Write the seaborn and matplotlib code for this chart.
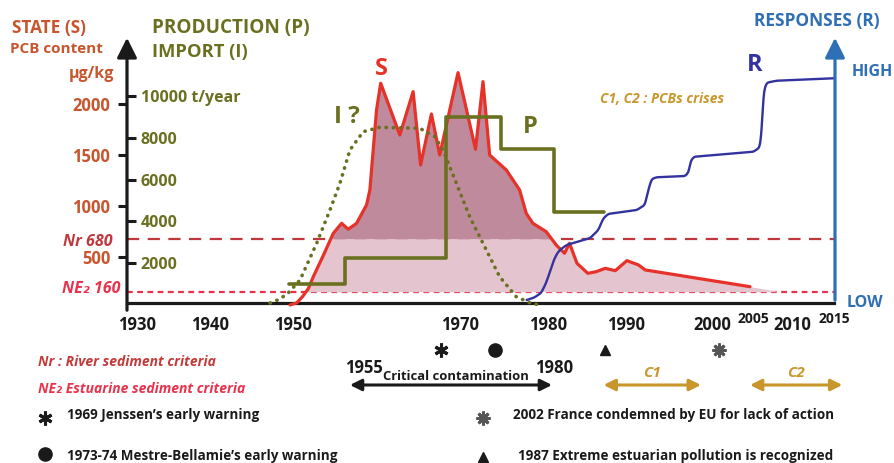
import numpy as np
import matplotlib
matplotlib.use("Agg")
import matplotlib.pyplot as plt
import seaborn as sns
from matplotlib.transforms import blended_transform_factory

sns.set_theme(style="white")
plt.rcParams["font.family"] = ["Open Sans", "DejaVu Sans"]

# State (S): PCB content, µg/kg
s_year = [1949.6, 1950.4, 1951.1, 1951.8, 1952.4, 1953.6, 1954.8, 1955.8, 1956.6,
          1957.6, 1958.8, 1959.2, 1959.6, 1960.0, 1960.5, 1962.8, 1964.4, 1965.3,
          1966.6, 1967.6, 1969.8, 1971.9, 1972.8, 1973.6, 1975.6, 1977.2, 1978.0,
          1978.8, 1980.4, 1981.6, 1982.6, 1983.2, 1984.1, 1985.4, 1986.4, 1987.5,
          1988.7, 1990.1, 1991.5, 1992.3, 2004.9]
s_val = [30, 50, 111, 190, 307, 515, 732, 830, 772,
         830, 1010, 1157, 1549, 1941, 2203, 1696, 2121, 1402,
         1902, 1500, 2307, 1556, 2219, 1500, 1353, 1157, 928,
         830, 748, 618, 536, 634, 438, 340, 356, 389,
         366, 464, 422, 373, 209]
# shaded area runs out a little after the last point
s_tail_year = [2008.5]
s_tail_val = [160]

# Production (P), t/year
p_year = [1949.5, 1956.2, 1968.4, 1975.0, 1981.3, 1987.4]
p_val = [1000, 2230, 9000, 7450, 4450, 4450]

# Import (I ?), t/year
i_year = [1947.2, 1948.4, 1949.5, 1950.8, 1952.8, 1954.4, 1955.6, 1956.8, 1958.4,
          1960.4, 1965.2, 1967.0, 1968.0, 1969.6, 1971.2, 1973.2, 1974.8, 1976.8,
          1978.5, 1979.6]
i_val = [96, 287, 622, 1196, 2952, 4545, 5823, 7416, 8292,
         8502, 8455, 8053, 7416, 5823, 4225, 2632, 1354, 397,
         96, 0]

# Responses (R): 0 = low, 1 = high
r_year = [1978.05, 1979.0, 1979.8, 1980.4, 1980.8, 1981.25, 1981.7, 1982.06, 1982.86,
          1985.66, 1986.66, 1987.26, 1987.86, 1991.27, 1992.27, 1992.67, 1993.07, 1993.68,
          1997.08, 1997.6, 1997.69, 1998.17, 2005.29, 2006.1, 2006.38, 2006.46, 2006.9,
          2008.1, 2015.0]
r_val = [0.013, 0.025, 0.045, 0.09, 0.135, 0.185, 0.22, 0.236, 0.258,
         0.288, 0.324, 0.376, 0.396, 0.413, 0.436, 0.502, 0.551, 0.559,
         0.564, 0.584, 0.628, 0.650, 0.672, 0.692, 0.784, 0.932, 0.979,
         0.988, 0.999]

nr_level = 680
ne2_level = 160

state_ticks = [500, 1000, 1500, 2000]
prod_ticks = [2000, 4000, 6000, 8000, 10000]
prod_labels = ["2000", "4000", "6000", "8000", "10000 t/year"]
year_ticks = [1930, 1940, 1950, 1960, 1970, 1980, 1990, 2000, 2005, 2010, 2015]
year_labels = ["1930", "1940", "1950", "", "1970", "1980", "1990", "2000", "2005", "2010", "2015"]

event_years = [1967.8, 1974.2, 1987.5, 2001.2]
event_labels = ["1969 Jenssen’s early warning",
                "1973-74 Mestre-Bellamie’s early warning",
                "1987 Extreme estuarian pollution is recognized",
                "2002 France condemned by EU for lack of action"]

period_names = ["Critical contamination", "C1", "C2"]
period_start = [1956.8, 1987.3, 2004.9]
period_end = [1981.1, 1999.0, 2016.0]

# couleurs
BLACK = "#1a1a1a"
STATE_C = "#c8552d"
OLIVE = "#6b7020"
S_RED = "#e63228"
NR_C = "#c0373c"
NE2_C = "#e8324b"
DARK_FILL = "#be8a9c"
LIGHT_FILL = "#e3c4cf"
NAVY = "#33339f"
BLUE = "#2e6fb5"
GOLD = "#c8962a"

W, H = 894, 463
fig = plt.figure(figsize=(W / 100, H / 100), dpi=100)


def fx(px):
    return px / W


def fy(py):
    return 1 - py / H


def put(px, py, s, **kw):
    kw.setdefault("ha", "center")
    kw.setdefault("va", "center")
    fig.text(fx(px), fy(py), s, **kw)


ax = fig.add_axes([fx(127), fy(303), fx(834) - fx(127), fy(40) - fy(303)])
ax.set_xlim(1930, 2015)
ax.set_ylim(49, 2627)
ax_p = ax.twinx()
ax_p.set_ylim(96, 12679)
ax_r = ax.twinx()
ax_r.set_ylim(0, 1.169)

for a in (ax, ax_p, ax_r):
    for side in ("left", "right", "top"):
        a.spines[side].set_visible(False)
ax_p.spines["bottom"].set_visible(False)
ax_r.spines["bottom"].set_visible(False)
ax.spines["bottom"].set_linewidth(2.3)
ax.spines["bottom"].set_color(BLACK)
ax.set_facecolor("none")

# seuils
ax.axhline(nr_level, color=NR_C, lw=1.6, ls=(0, (5.5, 3.8)), zorder=1)
ax.axhline(ne2_level, color=NE2_C, lw=1.6, ls=(0, (2.6, 2.0)), zorder=1)

# zones colorées sous S
fill_year = np.array(s_year + s_tail_year)
fill_val = np.array(s_val + s_tail_val)
xs = np.linspace(fill_year[0], fill_year[-1], 4000)
ss = np.interp(xs, fill_year, fill_val)
ax.fill_between(xs, ne2_level, np.minimum(ss, nr_level), where=ss > ne2_level,
                interpolate=True, color=LIGHT_FILL, lw=0, zorder=2)
ax.fill_between(xs, nr_level, ss, where=ss > nr_level,
                interpolate=True, color=DARK_FILL, lw=0, zorder=2)

sns.lineplot(x=s_year, y=s_val, ax=ax, color=S_RED, lw=2.3, sort=False,
             estimator=None, zorder=4, clip_on=False)
sns.lineplot(x=p_year, y=p_val, ax=ax_p, color=OLIVE, lw=2.6, sort=False,
             estimator=None, drawstyle="steps-post")
ax_p.plot(i_year, i_val, color=OLIVE, lw=2.6, ls=(0, (0.1, 1.9)),
          dash_capstyle="round", clip_on=False)

# R : courbe en escalier adoucie
xr = np.linspace(r_year[0], r_year[-1], 3000)
yr_lin = np.interp(xr, r_year, r_val)
step = xr[1] - xr[0]
half = int(0.4 / step)
kern = np.exp(-0.5 * (np.arange(-half, half + 1) * step / 0.13) ** 2)
kern /= kern.sum()
yr_s = np.convolve(np.pad(yr_lin, half, mode="edge"), kern, mode="valid")
sns.lineplot(x=xr, y=yr_s, ax=ax_r, color=NAVY, lw=1.7, sort=False, estimator=None)

# axes : graduations
ax.set_xticks(year_ticks)
ax.set_xticklabels([])
ax.tick_params(axis="x", direction="inout", length=8, width=2.2, color=BLACK, bottom=True)
ax.set_yticks(state_ticks)
ax.set_yticklabels([str(v) for v in state_ticks], fontweight="bold")
ax.tick_params(axis="y", direction="out", length=6.5, width=2.2, color=BLACK,
               labelcolor=STATE_C, labelsize=12, pad=5.5, left=True)
ax_p.yaxis.tick_left()
ax_p.set_yticks(prod_ticks)
ax_p.set_yticklabels(prod_labels, fontweight="bold", ha="left")
ax_p.tick_params(axis="y", direction="in", length=6.5, width=2.2, color=BLACK,
                 labelcolor=OLIVE, labelsize=11.5, pad=-10)
ax_r.set_yticks([])
ax_r.set_xticks([])
for a in (ax, ax_p, ax_r):
    a.set_xlabel("")
    a.set_ylabel("")

blend = blended_transform_factory(ax.transData, fig.transFigure)
label_shift = {1930: 1.2, 1980: 0.6, 2000: 0.4, 2005: 0.3}
for yr, lab in zip(year_ticks, year_labels):
    small = yr in (2005, 2015)
    ax.text(yr + label_shift.get(yr, 0), fy(319 if small else 325), lab, transform=blend,
            ha="center", va="center", fontsize=10 if small else 12,
            fontweight="bold", color=BLACK)

# flèches des axes
fig.patches.append(matplotlib.patches.FancyArrowPatch(
    (fx(127), fy(313)), (fx(127), fy(35)), transform=fig.transFigure,
    arrowstyle="-|>", mutation_scale=30, lw=2.3, color=BLACK))
fig.patches.append(matplotlib.patches.FancyArrowPatch(
    (fx(835), fy(303)), (fx(835), fy(35)), transform=fig.transFigure,
    arrowstyle="-|>", mutation_scale=30, lw=2.3, color=BLUE))

# titres
put(12, 28, "STATE (S)", ha="left", color=STATE_C, fontsize=12.4, fontweight="bold")
put(10, 49, "PCB content", ha="left", color=STATE_C, fontsize=11, fontweight="bold")
put(114, 74, "µg/kg", ha="right", color=STATE_C, fontsize=11.5, fontweight="bold")
put(152, 28, "PRODUCTION (P)", ha="left", color=OLIVE, fontsize=13.6, fontweight="bold")
put(152, 52, "IMPORT (I)", ha="left", color=OLIVE, fontsize=13.2, fontweight="bold")
put(817, 21, "RESPONSES (R)", color=BLUE, fontsize=12.5, fontweight="bold")
put(852, 72, "HIGH", ha="left", color=BLUE, fontsize=11.5, fontweight="bold")
put(847, 303, "LOW", ha="left", color=BLUE, fontsize=11.5, fontweight="bold")
put(113, 242, "Nr 680", ha="right", color=NR_C, fontsize=11.5, fontweight="bold", style="italic")
put(120, 289, "NE₂ 160", ha="right", color=NE2_C, fontsize=11.5, fontweight="bold", style="italic")

put(381, 69, "S", color=S_RED, fontsize=17, fontweight="bold")
put(347, 117, "I ?", color=OLIVE, fontsize=17.5, fontweight="bold")
put(530, 127, "P", color=OLIVE, fontsize=17, fontweight="bold")
put(755, 65, "R", color=NAVY, fontsize=17, fontweight="bold")
put(600, 99, "C1, C2 : PCBs crises", ha="left", color=GOLD, fontsize=10, fontweight="bold",
    style="italic")

# événements sur la frise
marker_kw = [dict(marker=(6, 2, 0), ms=10, mew=2.2, color=BLACK),
             dict(marker="o", ms=9.5, color=BLACK),
             dict(marker="^", ms=7.5, color=BLACK),
             dict(marker=(8, 2, 0), ms=10, mew=2.0, color="#555555")]
for yr, kw in zip(event_years, marker_kw):
    ax.plot([yr], [fy(350)], transform=blend, clip_on=False, ls="none", **kw)

legend_pos = [(45, 418, 67, 415), (45, 454, 67, 456), (483, 457, 518, 456), (483, 418, 513, 415)]
for (mx, my, tx, ty), kw, lab in zip(legend_pos, marker_kw, event_labels):
    fig.add_artist(matplotlib.lines.Line2D([fx(mx)], [fy(my)], transform=fig.transFigure,
                                           ls="none", **kw))
    put(tx, ty, lab, ha="left", color=BLACK, fontsize=9.75, fontweight="bold")

# périodes
period_colors = [BLACK, GOLD, GOLD]
for name, x0, x1, c in zip(period_names, period_start, period_end, period_colors):
    ax.annotate("", xy=(x1, fy(385)), xytext=(x0, fy(385)), xycoords=blend,
                textcoords=blend, annotation_clip=False,
                arrowprops=dict(arrowstyle="<|-|>", lw=2.2, color=c, mutation_scale=17,
                                shrinkA=0, shrinkB=0))
put(456, 376, period_names[0], fontsize=9.4, fontweight="bold", color=BLACK)
put(364, 368, "1955", fontsize=12, fontweight="bold", color=BLACK)
put(554, 368, "1980", fontsize=12, fontweight="bold", color=BLACK)
put(652, 373, period_names[1], fontsize=11, fontweight="bold", style="italic", color=GOLD)
put(796, 373, period_names[2], fontsize=11, fontweight="bold", style="italic", color=GOLD)

put(38, 362, "Nr : River sediment criteria", ha="left", color="#c43a3a", fontsize=10,
    fontweight="bold", style="italic")
put(38, 389, "NE₂ Estuarine sediment criteria", ha="left", color=NE2_C, fontsize=10,
    fontweight="bold", style="italic")

fig.savefig("out.png", dpi=100)
